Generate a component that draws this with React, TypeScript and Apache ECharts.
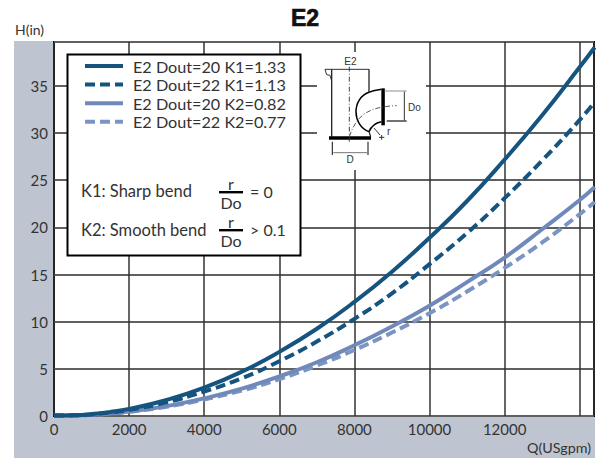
import React, { useEffect, useRef } from "react";
import * as echarts from "echarts";

const FONT = "Lato, 'Noto Sans', sans-serif";
const TEXT = "#333333";

const flow = [0, 500, 1000, 1500, 2000, 3000, 4000, 5000, 6000, 7000, 8000, 9000, 10000, 11000, 12000, 13000, 14000, 14400];
const d20k1 = [0.05, 0.08, 0.2, 0.43, 0.76, 1.7, 3.0, 4.7, 6.8, 9.25, 12.1, 15.3, 18.9, 22.8, 27.2, 31.9, 37.0, 39.1];
const d22k1 = [0.05, 0.07, 0.17, 0.37, 0.65, 1.45, 2.6, 4.0, 5.8, 7.9, 10.3, 13.0, 16.1, 19.4, 23.1, 27.1, 31.4, 33.3];
const d20k2 = [0.04, 0.06, 0.13, 0.27, 0.47, 1.05, 1.87, 2.9, 4.2, 5.7, 7.5, 9.5, 11.7, 14.2, 16.8, 19.8, 22.9, 24.3];
const d22k2 = [0.04, 0.05, 0.12, 0.25, 0.44, 0.98, 1.75, 2.7, 3.9, 5.35, 7.0, 8.85, 10.9, 13.2, 15.7, 18.4, 21.4, 22.7];

const seriesNames = ["E2 Dout=20 K1=1.33", "E2 Dout=22 K1=1.13", "E2 Dout=20 K2=0.82", "E2 Dout=22 K2=0.77"];
const xTickLabels = ["0", "2000", "4000", "6000", "8000", "10000", "12000"];

const zx = (v: number) => 300 + v / 3;
const zy = (v: number) => 40 + v / 3;

const dl = (x1: number, y1: number, x2: number, y2: number, stroke = "#333", lineWidth = 1, lineDash?: number[]) => ({
  type: "line",
  z: 7,
  shape: { x1: zx(x1), y1: zy(y1), x2: zx(x2), y2: zy(y2) },
  style: { stroke, lineWidth, lineDash },
});
const dc = (p: number[], stroke = "#111", lineWidth = 1.4, lineDash?: number[]) => ({
  type: "bezierCurve",
  z: 7,
  shape: {
    x1: zx(p[0]), y1: zy(p[1]),
    cpx1: zx(p[2]), cpy1: zy(p[3]),
    cpx2: zx(p[4]), cpy2: zy(p[5]),
    x2: zx(p[6]), y2: zy(p[7]),
  },
  style: { stroke, lineWidth, lineDash, fill: "none" },
});
const txt = (x: number, y: number, text: string, fontSize = 16.5, align = "left", extra: any = {}) => ({
  type: "text",
  z: 8,
  x,
  y,
  style: { text, fontSize, fontFamily: FONT, fill: TEXT, align, verticalAlign: "middle", ...extra },
});
const bar = (x: number, y: number, width: number, height: number, fill = "#000") => ({
  type: "rect",
  z: 7,
  shape: { x, y, width, height },
  style: { fill },
});

export default function App() {
  const ref = useRef<HTMLDivElement>(null);
  useEffect(() => {
    const chart = echarts.init(ref.current!, undefined, { renderer: "svg" });
    const pairs = (ys: number[]) => flow.map((q, i) => [q, ys[i]]);
    const mk = (i: number, ys: number[], color: string, dashed: boolean) => ({
      type: "line",
      name: seriesNames[i],
      data: pairs(ys),
      smooth: 0.5,
      showSymbol: false,
      symbol: "none",
      z: 3 + (3 - i),
      lineStyle: { color, width: 4, type: dashed ? [10, 5] : "solid", cap: "butt" },
      itemStyle: { color },
    });
    chart.setOption({
      animation: false,
      backgroundColor: "#ffffff",
      title: {
        text: "E2",
        left: 291,
        top: 6,
        padding: 0,
        textStyle: {
          fontFamily: "'Liberation Sans', Arial, sans-serif",
          fontSize: 23,
          fontWeight: "bold",
          color: "#111",
          textBorderColor: "#111",
          textBorderWidth: 0.7,
        },
      },
      grid: { left: 54, top: 42, width: 540, height: 374, show: true, backgroundColor: "#fff", borderColor: "#000", borderWidth: 2 },
      xAxis: {
        type: "value",
        min: 0,
        max: 14380,
        interval: 2000,
        axisTick: { show: false },
        axisLine: { show: false },
        splitLine: { show: true, lineStyle: { color: "#333", width: 1.5 } },
        axisLabel: {
          margin: 5,
          fontSize: 15,
          fontFamily: FONT,
          color: TEXT,
          showMaxLabel: false,
          formatter: (v: number) => (xTickLabels.includes(String(v)) ? String(v) : ""),
        },
      },
      yAxis: {
        type: "value",
        min: 0,
        max: 39.66,
        interval: 5,
        axisTick: { show: false },
        axisLine: { show: false },
        splitLine: { show: true, lineStyle: { color: "#606060", width: 1.8 } },
        axisLabel: { margin: 6, fontSize: 15, fontFamily: FONT, color: TEXT, showMaxLabel: false },
      },
      legend: {
        left: 83,
        top: 58,
        orient: "vertical",
        itemWidth: 38,
        itemHeight: 14,
        itemGap: 2.6,
        z: 6,
        data: seriesNames,
        itemStyle: { opacity: 0 },
        lineStyle: { width: 4 },
        textStyle: { fontFamily: FONT, fontSize: 16.2, lineHeight: 14, color: TEXT, padding: [0, 0, 0, 5] },
        padding: 0,
        selectedMode: false,
      },
      series: [
        mk(0, d20k1, "#15547f", false),
        mk(1, d22k1, "#15547f", true),
        mk(2, d20k2, "#7089ba", false),
        mk(3, d22k2, "#7b95c3", true),
      ],
      graphic: [
        { type: "rect", z: -1, silent: true, shape: { x: 14, y: 41, width: 581, height: 417 }, style: { fill: "#bfc5d0" } },
        { type: "rect", z: 4, shape: { x: 67.5, y: 54.5, width: 233, height: 201 }, style: { fill: "#fff", stroke: "#000", lineWidth: 2 } },
        { type: "rect", z: 4, shape: { x: 317, y: 52, width: 109, height: 118 }, style: { fill: "#fff" } },
        txt(15, 29, "H(in)", 14),
        txt(527, 447, "Q(USgpm)", 14.3),
        txt(81, 191, "K1: Sharp bend"),
        bar(219, 191, 24, 2.4),
        txt(231, 183, "r", 16, "center"),
        txt(231, 202, "Do", 16, "center"),
        txt(250, 191, "= 0", 16),
        txt(81, 229.5, "K2: Smooth bend"),
        bar(219, 229, 24, 2.4),
        txt(231, 221, "r", 16, "center"),
        txt(231, 240, "Do", 16, "center"),
        txt(250, 229.5, "> 0.1", 16),
        // fitting diagram
        dl(75, 88, 207, 88),
        dl(75, 88, 80, 104),
        dl(80, 104, 90, 106),
        dl(90, 106, 95, 122),
        dl(95, 88, 95, 290, "#222", 1.3),
        dl(207, 88, 207, 157, "#222", 1.3),
        dl(207, 275, 212, 290, "#222", 1.3),
        dc([207, 157, 222, 150, 232, 150, 244, 148], "#000", 1.5),
        dc([207, 157, 155, 175, 155, 255, 207, 275], "#000", 1.5),
        dc([207, 275, 215, 255, 228, 248, 244, 245], "#000", 1.5),
        bar(zx(87), zy(289), 42, 3.5),
        bar(zx(244), zy(145), 3.5, 37),
        dl(148, 80, 148, 310, "#333", 0.9, [5, 2, 1, 2]),
        dc([148, 290, 170, 225, 205, 200, 290, 197], "#444", 0.9, [5, 2, 1, 2]),
        dl(97, 305, 97, 345, "#222", 1.1),
        dl(204, 305, 204, 345, "#222", 1.1),
        dl(100, 338, 202, 338, "#777", 1),
        dl(254, 153, 320, 153, "#999", 1.1),
        dl(260, 243, 320, 243, "#000", 1.1),
        dl(313, 155, 313, 241, "#333", 1),
        dl(222, 264, 240, 285, "#333", 1),
        dl(237, 292, 253, 292, "#333", 1),
        dl(245, 285, 245, 299, "#333", 1),
        txt(zx(151), zy(65), "E2", 10, "center", { fontFamily: "'Liberation Sans', sans-serif" }),
        txt(zx(150), zy(358), "D", 10, "center", { fontFamily: "'Liberation Sans', sans-serif" }),
        txt(zx(343), zy(203), "Do", 10, "center", { fontFamily: "'Liberation Sans', sans-serif" }),
        txt(zx(266), zy(273), "r", 10, "center", { fontFamily: "'Liberation Sans', sans-serif" }),
      ],
    });
    return () => chart.dispose();
  }, []);
  return <div ref={ref} style={{ position: "fixed", left: 0, top: 0, width: 602, height: 458 }} />;
}
